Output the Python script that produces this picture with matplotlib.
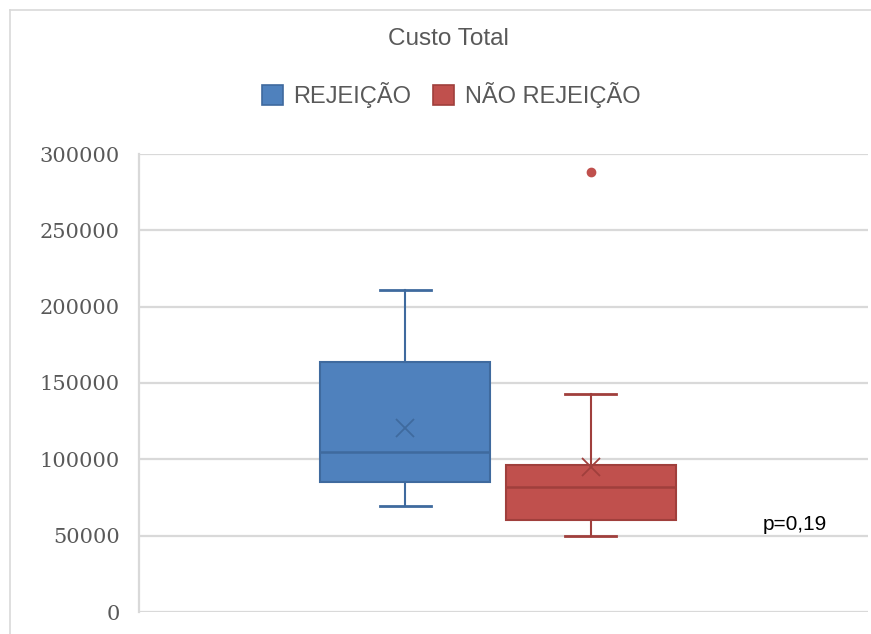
import matplotlib
matplotlib.use('Agg')
import matplotlib.pyplot as plt
import matplotlib.transforms as mtransforms
from matplotlib.patches import Patch
from matplotlib.lines import Line2D

# values
groups = ['REJEIÇÃO', 'NÃO REJEIÇÃO']
whisker_low = [69500, 50000]
q1 = [85000, 60000]
medians = [104800, 82000]
q3 = [164000, 96000]
whisker_high = [211000, 143000]
means = [120500, 95000]
outliers = [[], [288000]]
yticks = [0, 50000, 100000, 150000, 200000, 250000, 300000]
p_label = 'p=0,19'

fill_colors = ['#4F81BD', '#C0504D']
edge_colors = ['#3F6A9E', '#A03F3C']
grid_color = '#D9D9D9'
text_color = '#595959'

fig = plt.figure(figsize=(8.71, 6.34), dpi=100)
ax = fig.add_axes([139 / 871, 22 / 634, 729 / 871, 458 / 634])

positions = [0.365, 0.62]
for i in range(len(groups)):
  stats = [{
    'whislo': whisker_low[i], 'q1': q1[i], 'med': medians[i],
    'q3': q3[i], 'whishi': whisker_high[i], 'mean': means[i],
    'fliers': outliers[i], 'label': groups[i],
  }]
  ec = edge_colors[i]
  ax.bxp(stats, positions=[positions[i]], widths=0.234, capwidths=0.07,
         patch_artist=True, showmeans=True, manage_ticks=False,
         boxprops=dict(facecolor=fill_colors[i], edgecolor=ec, linewidth=1.5),
         medianprops=dict(color=ec, linewidth=1.8),
         whiskerprops=dict(color=ec, linewidth=1.5),
         capprops=dict(color=ec, linewidth=2.0),
         meanprops=dict(marker='x', markeredgecolor=ec, markersize=13,
                        markeredgewidth=1.3),
         flierprops=dict(marker='o', markerfacecolor=fill_colors[i],
                         markeredgecolor=fill_colors[i], markersize=6))

ax.set_xlim(0, 1)
ax.set_ylim(0, 300000)
ax.set_yticks(yticks)
ax.set_yticklabels([str(t) for t in yticks], family='DejaVu Serif',
                   fontsize=15, color=text_color)
ax.tick_params(axis='y', length=0, pad=14)
ax.set_xticks([])
ax.yaxis.grid(True, color=grid_color, linewidth=1.6)
ax.set_axisbelow(True)
for side in ['top', 'right', 'bottom']:
  ax.spines[side].set_visible(False)
ax.spines['left'].set_color(grid_color)
ax.spines['left'].set_linewidth(1.6)

# p-value note: x in axes fraction, y in data units
trans = mtransforms.blended_transform_factory(ax.transAxes, ax.transData)
ax.text(0.9, 57000, p_label, transform=trans, ha='center',
        va='center', fontsize=15, family='Liberation Sans', color='black')

# chart frame (left and top edges)
fig.add_artist(Line2D([9.5 / 871, 9.5 / 871], [0, 1 - 9.5 / 634],
                      transform=fig.transFigure, color=grid_color, linewidth=1.2))
fig.add_artist(Line2D([9.5 / 871, 1], [1 - 9.5 / 634, 1 - 9.5 / 634],
                      transform=fig.transFigure, color=grid_color, linewidth=1.2))

fig.text(448 / 871, 1 - 39 / 634, 'Custo Total', ha='center', va='center',
         fontsize=17.5, family='Liberation Sans', color=text_color)

handles = [Patch(facecolor=fill_colors[i], edgecolor=edge_colors[i], linewidth=1.2,
                 label=groups[i]) for i in range(len(groups))]
fig.legend(handles=handles, loc='center', bbox_to_anchor=(451 / 871, 1 - 95 / 634),
           ncol=2, frameon=False, prop={'family': 'Liberation Sans', 'size': 17},
           labelcolor=text_color, handlelength=0.9, handleheight=0.9,
           handletextpad=0.45, columnspacing=0.9)

fig.savefig('out.png', dpi=100)
